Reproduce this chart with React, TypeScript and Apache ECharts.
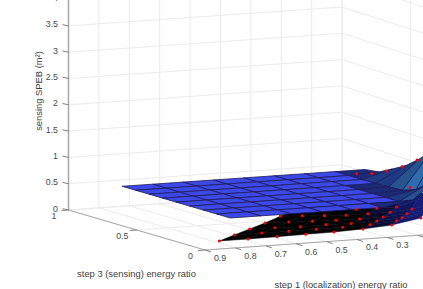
import React, { useEffect, useRef } from "react";
import * as echarts from "echarts";

const zTicks = [0, 0.5, 1, 1.5, 2, 2.5, 3, 3.5, 4];
const zLabels = ["0", "0.5", "1", "1.5", "2", "2.5", "3", "3.5", "4"];
const s1Ticks = [1, 0.9, 0.8, 0.7, 0.6, 0.5, 0.4, 0.3, 0.2, 0.1];
const s1Labels = ["", "0.9", "0.8", "0.7", "0.6", "0.5", "0.4", "0.3", "", ""];
const s3Ticks = [1, 0.5, 0];
const s3Labels = ["1", "0.5", "0"];

const upperS1 = [0.1, 0.2, 0.3, 0.4, 0.5, 0.6, 0.7, 0.8, 0.9];
const upperS3 = [0.83, 0.731, 0.632, 0.533, 0.434, 0.335, 0.236, 0.137, 0.038];
const upperZ = [
  [0.54, 0.54, 0.54, 0.54, 0.54, 0.54, 0.54, 0.54, 0.54],
  [0.57, 0.54, 0.54, 0.54, 0.54, 0.54, 0.54, 0.54, 0.54],
  [0.7, 0.54, 0.54, 0.54, 0.54, 0.54, 0.54, 0.54, 0.54],
  [0.84, 0.54, 0.54, 0.54, 0.54, 0.54, 0.54, 0.54, 0.54],
  [1.04, 0.55, 0.54, 0.54, 0.54, 0.54, 0.54, 0.54, 0.54],
  [1.3, 0.56, 0.54, 0.54, 0.54, 0.54, 0.54, 0.54, 0.54],
  [1.6, 0.65, 0.54, 0.54, 0.54, 0.54, 0.54, 0.54, 0.54],
  [1.9, 0.85, 0.54, 0.54, 0.54, 0.54, 0.54, 0.54, 0.54],
  [2.2, 1.1, 0.64, 0.54, 0.54, 0.54, 0.54, 0.54, 0.54],
];

const lowerS3 = [0.118, 0.215, 0.312, 0.409, 0.506, 0.603, 0.7];
const lowerS1 = [
  [0.9, 0.805, 0.71, 0.616, 0.523, 0.427, 0.332, 0.237, 0.142],
  [0.807, 0.717, 0.628, 0.538, 0.451, 0.361, 0.273, 0.185],
  [0.713, 0.63, 0.546, 0.462, 0.379, 0.295, 0.212, 0.129],
  [0.619, 0.541, 0.463, 0.386, 0.308, 0.23, 0.152, 0.073],
  [0.525, 0.453, 0.38, 0.309, 0.237, 0.164, 0.092, 0.02],
  [0.432, 0.364, 0.298, 0.232, 0.164, 0.099, 0.032, -0.03],
  [0.338, 0.275, 0.212, 0.15, 0.087, 0.025, -0.037, -0.1],
];
const lowerZ = [
  [0.042, 0.042, 0.048, 0.055, 0.062, 0.082, 0.12, 0.215, 0.4],
  [0.045, 0.047, 0.043, 0.046, 0.049, 0.063, 0.103, 0.2],
  [0.048, 0.038, 0.025, 0.03, 0.02, 0.032, 0.06, 0.137],
  [0.05, 0.038, 0.02, 0.008, 0.0, 0.008, 0.04, 0.1],
  [0.067, 0.049, 0.021, 0.0, 0.0, 0.0, 0.03, 0.1],
  [0.09, 0.05, 0.03, 0.01, 0.0, 0.0, 0.11, 0.1],
  [0.08, 0.08, 0.08, 0.08, 0.08, 0.1, 0.15, 0.2],
];
const lowerMarked = [
  [0, 7],
  [0, 6],
  [0, 6],
  [0, 6],
  [0, 6],
  [3, 5],
];

const ridgeS1 = [0.1, 0.1, 0.1, 0.1, 0.1, 0.173];
const ridgeS3 = [0.893, 0.783, 0.673, 0.559, 0.45, 0.34];
const ridgeZ = [0.41, 0.5, 0.63, 0.8, 1.01, 0.6];

const project = (s1: number, s3: number, z: number) => [
  68.5 + (1 - s1) * 304 + (1 - s3) * 136.5,
  210 - (1 - s1) * 21 + (1 - s3) * 40 - z * 52.6,
];

type Tri = [number, number, number];
type Face = { pts: Tri[]; fill: string; stroke: string };
type Seg = { a: number[]; b: number[]; color: string; width: number };
type Lab = { at: number[]; text: string; dx: number; dy: number; align: string };

const GRID = "#ebebeb";
const AXIS = "#a8a8a8";
const TICK = "#808080";

const lerpColor = (a: number[], b: number[], t: number) => {
  const k = Math.max(0, Math.min(1, t));
  return `rgb(${a.map((v, i) => Math.round(v + (b[i] - v) * k)).join(",")})`;
};

const lowerFaces: Face[] = [];
for (let j = lowerS3.length - 2; j >= 0; j--) {
  const n = Math.min(lowerS1[j].length, lowerS1[j + 1].length);
  for (let k = 0; k < n - 1; k++) {
    const pts: Tri[] = [
      [lowerS1[j][k], lowerS3[j], lowerZ[j][k]],
      [lowerS1[j][k + 1], lowerS3[j], lowerZ[j][k + 1]],
      [lowerS1[j + 1][k + 1], lowerS3[j + 1], lowerZ[j + 1][k + 1]],
      [lowerS1[j + 1][k], lowerS3[j + 1], lowerZ[j + 1][k]],
    ];
    const x = pts.reduce((s, p) => s + project(p[0], p[1], p[2])[0], 0) / 4;
    const fill = lerpColor([0, 0, 0], [20, 28, 120], (x - 355) / 60);
    lowerFaces.push({ pts, fill, stroke: fill });
  }
}
const upperFaces: Face[] = [];
for (let j = 0; j < upperS3.length - 1; j++) {
  for (let k = 0; k < upperS1.length - 1; k++) {
    const zs = [upperZ[j][k], upperZ[j][k + 1], upperZ[j + 1][k + 1], upperZ[j + 1][k]];
    const mean = (zs[0] + zs[1] + zs[2] + zs[3]) / 4;
    const flat = Math.max(...zs) < 0.545;
    let fill = "#3d49e6";
    if (!flat) {
      if (mean < 0.62) fill = "#1d2a78";
      else if (mean < 0.75) fill = "#1e3a82";
      else if (mean < 1) fill = "#25558f";
      else fill = "#2c6db0";
    }
    upperFaces.push({
      pts: [
        [upperS1[k], upperS3[j], zs[0]],
        [upperS1[k + 1], upperS3[j], zs[1]],
        [upperS1[k + 1], upperS3[j + 1], zs[2]],
        [upperS1[k], upperS3[j + 1], zs[3]],
      ],
      fill,
      stroke: "#1a1a5c",
    });
  }
}

const segs: Seg[] = [];
const wallV = 44 / 136.5;
const TOP = 4.1;
s1Ticks.forEach((s) => {
  segs.push({ a: project(s, 1, 0), b: project(s, 1, TOP), color: GRID, width: 1 });
  segs.push({ a: project(s, 1, 0), b: project(s, 0, 0), color: GRID, width: 1 });
});
s3Ticks.forEach((s) => {
  segs.push({ a: project(0.1, s, 0), b: project(1, s, 0), color: GRID, width: 1 });
  const p = project(0.1, s, 0);
  segs.push({ a: [p[0], p[1]], b: [p[0], p[1] - TOP * 52.6], color: GRID, width: 1 });
});
zTicks.forEach((z) => {
  segs.push({ a: project(1, 1, z), b: project(0.1, 1, z), color: GRID, width: 1 });
  const p = project(0.1, 1, z);
  segs.push({ a: p, b: [p[0] + 136.5, p[1] + 136.5 * wallV], color: GRID, width: 1 });
});
segs.push({ a: project(1, 1, 0), b: project(1, 1, TOP), color: AXIS, width: 1.5 });
segs.push({ a: project(1, 1, 0), b: project(1, 0, 0), color: AXIS, width: 1 });
segs.push({ a: project(1, 0, 0), b: project(0.1, 0, 0), color: AXIS, width: 1 });
zTicks.forEach((z) => {
  const p = project(1, 1, z);
  segs.push({ a: p, b: [p[0] - 6, p[1] - 1.3], color: TICK, width: 1 });
});
s3Ticks.forEach((s) => {
  const p = project(1, s, 0);
  segs.push({ a: p, b: [p[0] - 7, p[1] + 0.5], color: TICK, width: 1 });
});
s1Ticks.forEach((s) => {
  const p = project(s, 0, 0);
  segs.push({ a: p, b: [p[0] + 6, p[1] + 2], color: TICK, width: 1 });
});

const labels: Lab[] = [];
zTicks.forEach((z, i) => labels.push({ at: project(1, 1, z), text: zLabels[i], dx: -10.5, dy: -1.5, align: "right" }));
s3Ticks.forEach((s, i) => labels.push({ at: project(1, s, 0), text: s3Labels[i], dx: -14.5, dy: 6.2, align: "center" }));
s1Ticks.forEach((s, i) => {
  if (s1Labels[i]) labels.push({ at: project(s, 0, 0), text: s1Labels[i], dx: -15.4, dy: 10, align: "center" });
});

const redDots: number[][] = [];
lowerMarked.forEach(([from, to], j) => {
  for (let k = from; k <= to; k++) redDots.push(project(lowerS1[j][k], lowerS3[j], lowerZ[j][k]));
});
ridgeS1.forEach((s, i) => redDots.push(project(s, ridgeS3[i], ridgeZ[i])));

const faceSeries = (faces: Face[], z: number, lineWidth: number) => ({
  type: "custom",
  silent: true,
  z,
  data: faces.map((_, i) => [i]),
  renderItem: (params: any, api: any) => {
    const f = faces[params.dataIndex];
    return {
      type: "polygon",
      shape: { points: f.pts.map((p) => api.coord(project(p[0], p[1], p[2]))) },
      style: { fill: f.fill, stroke: f.stroke, lineWidth },
    };
  },
});

export default function App() {
  const ref = useRef<HTMLDivElement>(null);
  useEffect(() => {
    const chart = echarts.init(ref.current!, undefined, { renderer: "svg" });
    chart.setOption({
      animation: false,
      backgroundColor: "#ffffff",
      grid: { left: 0, right: 0, top: 0, bottom: 0 },
      xAxis: { type: "value", min: 0, max: 423, show: false },
      yAxis: { type: "value", min: 0, max: 289, inverse: true, show: false },
      graphic: [
        {
          type: "text",
          x: 38,
          y: 91,
          rotation: Math.PI / 2,
          style: { text: "sensing SPEB (m²)", font: "9.4px 'Liberation Sans'", fill: "#404040", align: "center", verticalAlign: "middle" },
        },
        {
          type: "text",
          x: 136.5,
          y: 273,
          style: { text: "step 3 (sensing) energy ratio", font: "9.4px 'Liberation Sans'", fill: "#404040", align: "center", verticalAlign: "middle" },
        },
        {
          type: "text",
          x: 341,
          y: 284,
          style: { text: "step 1 (localization) energy ratio", font: "9.4px 'Liberation Sans'", fill: "#404040", align: "center", verticalAlign: "middle" },
        },
      ],
      series: [
        {
          type: "custom",
          silent: true,
          z: 1,
          data: segs.map((_, i) => [i]),
          renderItem: (params: any, api: any) => {
            const s = segs[params.dataIndex];
            const a = api.coord(s.a);
            const b = api.coord(s.b);
            return {
              type: "line",
              shape: { x1: a[0], y1: a[1], x2: b[0], y2: b[1] },
              style: { stroke: s.color, lineWidth: s.width },
            };
          },
        },
        {
          type: "custom",
          silent: true,
          z: 2,
          data: labels.map((_, i) => [i]),
          renderItem: (params: any, api: any) => {
            const l = labels[params.dataIndex];
            const p = api.coord(l.at);
            return {
              type: "text",
              x: p[0] + l.dx,
              y: p[1] + l.dy,
              style: { text: l.text, font: "8.8px 'Liberation Sans'", fill: "#4a4a4a", align: l.align, verticalAlign: "middle" },
            };
          },
        },
        faceSeries(lowerFaces, 3, 0.5),
        faceSeries(upperFaces, 4, 0.8),
        {
          type: "custom",
          silent: true,
          z: 5,
          data: redDots.map((_, i) => [i]),
          renderItem: (params: any, api: any) => {
            const d = redDots[params.dataIndex];
            const p = api.coord(d);
            return { type: "circle", shape: { cx: p[0], cy: p[1], r: 1.5 }, style: { fill: "#ff0000" } };
          },
        },
      ],
    });
    return () => chart.dispose();
  }, []);
  return <div ref={ref} style={{ position: "fixed", left: 0, top: 0, width: 423, height: 289 }} />;
}
